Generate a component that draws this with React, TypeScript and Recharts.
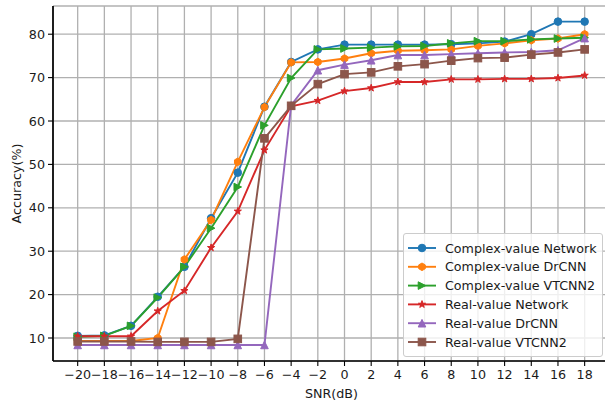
import React from "react";
import { LineChart, Line, XAxis, YAxis, CartesianGrid } from "recharts";

const snr = [-20, -18, -16, -14, -12, -10, -8, -6, -4, -2, 0, 2, 4, 6, 8, 10, 12, 14, 16, 18];
const yTicks = [10, 20, 30, 40, 50, 60, 70, 80];

const complexNetwork = [10.5, 10.6, 12.8, 19.5, 26.4, 37.6, 48.1, 63.3, 73.6, 76.5, 77.6, 77.6, 77.6, 77.6, 77.7, 77.9, 78.3, 80.0, 82.9, 82.9];
const complexDrCNN = [9.3, 9.3, 9.3, 10.0, 28.1, 37.2, 50.6, 63.2, 73.5, 73.6, 74.4, 75.6, 76.2, 76.3, 76.5, 77.3, 77.9, 78.6, 79.0, 80.0];
const complexVTCNN2 = [10.3, 10.5, 12.8, 19.3, 26.4, 35.3, 44.8, 59.0, 69.9, 76.5, 76.7, 76.9, 77.2, 77.3, 77.9, 78.4, 78.4, 78.8, 79.0, 79.2];
const realNetwork = [10.4, 10.4, 10.4, 16.2, 20.9, 30.8, 39.2, 53.3, 63.4, 64.7, 66.9, 67.6, 69.0, 69.0, 69.6, 69.6, 69.7, 69.7, 69.9, 70.5];
const realDrCNN = [8.4, 8.4, 8.4, 8.4, 8.4, 8.4, 8.4, 8.4, 63.6, 71.7, 73.0, 74.0, 75.2, 75.2, 75.4, 75.6, 75.8, 75.9, 76.3, 79.1];
const realVTCNN2 = [9.2, 9.2, 9.2, 9.1, 9.1, 9.1, 9.8, 56.0, 63.5, 68.5, 70.8, 71.2, 72.6, 73.1, 73.9, 74.5, 74.6, 75.3, 75.8, 76.5];

const seriesNames = [
  "Complex-value Network",
  "Complex-value DrCNN",
  "Complex-value VTCNN2",
  "Real-value Network",
  "Real-value DrCNN",
  "Real-value VTCNN2",
];
const seriesValues = [complexNetwork, complexDrCNN, complexVTCNN2, realNetwork, realDrCNN, realVTCNN2];
const seriesColors = ["#1f77b4", "#ff7f0e", "#2ca02c", "#d62728", "#9467bd", "#8c564b"];
const seriesMarkers = ["circle", "hexagon", "triangleRight", "star", "triangleUp", "square"];

const data = snr.map((s, i) => {
  const row: Record<string, number> = { snr: s };
  seriesValues.forEach((vals, k) => {
    row["s" + k] = vals[i];
  });
  return row;
});

const FONT = "DejaVu Sans";
const MS = 7.6;

function polyPoints(cx: number, cy: number, n: number, r: number, startDeg: number) {
  const pts: string[] = [];
  for (let k = 0; k < n; k++) {
    const a = ((startDeg + (k * 360) / n) * Math.PI) / 180;
    pts.push(`${cx + r * Math.cos(a)},${cy + r * Math.sin(a)}`);
  }
  return pts.join(" ");
}

function starPoints(cx: number, cy: number, R: number, r: number) {
  const pts: string[] = [];
  for (let k = 0; k < 10; k++) {
    const a = ((-90 + k * 36) * Math.PI) / 180;
    const rad = k % 2 === 0 ? R : r;
    pts.push(`${cx + rad * Math.cos(a)},${cy + rad * Math.sin(a)}`);
  }
  return pts.join(" ");
}

function Marker({ shape, cx, cy, color }: { shape: string; cx: number; cy: number; color: string }) {
  const h = MS / 2;
  const common = { fill: color, stroke: color, strokeWidth: 1, strokeLinejoin: "miter" as const };
  if (shape === "circle") return <circle cx={cx} cy={cy} r={h} {...common} />;
  if (shape === "hexagon") return <polygon points={polyPoints(cx, cy, 6, h, -90)} {...common} />;
  if (shape === "triangleRight")
    return <polygon points={`${cx + h},${cy} ${cx - h},${cy - h} ${cx - h},${cy + h}`} {...common} />;
  if (shape === "triangleUp")
    return <polygon points={`${cx},${cy - h} ${cx - h},${cy + h} ${cx + h},${cy + h}`} {...common} />;
  if (shape === "star") return <polygon points={starPoints(cx, cy, h, h * 0.381966)} {...common} />;
  return <rect x={cx - h} y={cy - h} width={MS} height={MS} {...common} />;
}

const fmt = (v: number) => (v < 0 ? "\u2212" + Math.abs(v) : String(v));

function LegendBox() {
  return (
    <div
      style={{
        position: "absolute",
        left: 403,
        top: 233,
        width: 200,
        height: 124,
        boxSizing: "border-box",
        border: "1px solid #cccccc",
        borderRadius: 3,
        background: "rgba(255,255,255,0.8)",
      }}
    >
      <svg width={200} height={124} style={{ position: "absolute", left: -1, top: -1 }}>
        {seriesNames.map((name, k) => {
          const cy = 15 + k * 18.8;
          return (
            <g key={name}>
              <line x1={5} x2={33} y1={cy} y2={cy} stroke={seriesColors[k]} strokeWidth={1.9} />
              <Marker shape={seriesMarkers[k]} cx={19} cy={cy} color={seriesColors[k]} />
              <text x={42} y={cy} dy="0.36em" fontFamily={FONT} fontSize={12.7} fill="#1a1a1a">
                {name}
              </text>
            </g>
          );
        })}
      </svg>
    </div>
  );
}

export default function App() {
  return (
    <div
      style={{
        position: "fixed",
        left: 0,
        top: 0,
        width: 605,
        height: 402,
        overflow: "hidden",
        background: "#fff",
      }}
    >
      <LineChart
        width={640}
        height={402}
        data={data}
        margin={{ top: 6, right: 30, bottom: 0, left: 0 }}
        style={{ fontFamily: FONT }}
      >
        <CartesianGrid stroke="#b0b0b0" strokeWidth={1.3} />
        <XAxis
          xAxisId="top"
          orientation="top"
          type="number"
          dataKey="snr"
          domain={[-21.85, 19.9]}
          allowDataOverflow
          height={0}
          tick={false}
          tickLine={false}
          axisLine={{ stroke: "#000", strokeWidth: 1.7 }}
        />
        <XAxis
          type="number"
          dataKey="snr"
          domain={[-21.85, 19.9]}
          allowDataOverflow
          ticks={snr}
          interval={0}
          tickFormatter={fmt}
          height={41}
          tickSize={5}
          tickMargin={4}
          tick={{ fill: "#1a1a1a", fontSize: 12.7, fontFamily: FONT }}
          tickLine={{ stroke: "#000", strokeWidth: 1.1 }}
          axisLine={{ stroke: "#000", strokeWidth: 1.7 }}
          label={(props: any) => {
            const vb = props.viewBox || {};
            return (
              <text
                x={vb.x + vb.width / 2}
                y={vb.y + 32}
                dy="0.36em"
                textAnchor="middle"
                fontFamily={FONT}
                fontSize={12.7}
                fill="#1a1a1a"
              >
                SNR(dB)
              </text>
            );
          }}
        />
        <YAxis
          type="number"
          domain={[4.7, 86.5]}
          allowDataOverflow
          ticks={yTicks}
          interval={0}
          width={53}
          tickSize={5}
          tickMargin={3}
          tick={{ fill: "#1a1a1a", fontSize: 12.7, fontFamily: FONT }}
          tickLine={{ stroke: "#000", strokeWidth: 1.1 }}
          axisLine={{ stroke: "#000", strokeWidth: 1.7 }}
          label={(props: any) => {
            const vb = props.viewBox || {};
            const x = vb.x + 16;
            const y = vb.y + vb.height / 2;
            return (
              <text
                x={x}
                y={y}
                dy="0.36em"
                textAnchor="middle"
                transform={`rotate(-90 ${x} ${y})`}
                fontFamily={FONT}
                fontSize={12.7}
                fill="#1a1a1a"
              >
                Accuracy(%)
              </text>
            );
          }}
        />
        {seriesNames.map((name, k) => (
          <Line
            key={name}
            name={name}
            dataKey={"s" + k}
            type="linear"
            stroke={seriesColors[k]}
            strokeWidth={1.9}
            isAnimationActive={false}
            activeDot={false}
            dot={(p: any) => (
              <g key={`d${k}-${p.index}`}>
                <Marker shape={seriesMarkers[k]} cx={p.cx} cy={p.cy} color={seriesColors[k]} />
              </g>
            )}
          />
        ))}
      </LineChart>
      <LegendBox />
    </div>
  );
}
